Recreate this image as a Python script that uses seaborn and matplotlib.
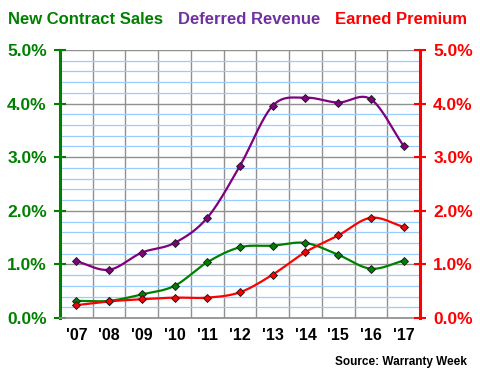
import numpy as np
import pandas as pd
import matplotlib
matplotlib.use("Agg")
import matplotlib.pyplot as plt
import seaborn as sns
from matplotlib.ticker import MultipleLocator, FixedLocator

years = ["'07", "'08", "'09", "'10", "'11", "'12", "'13", "'14", "'15", "'16", "'17"]
new_contract_sales = [0.32, 0.32, 0.44, 0.60, 1.04, 1.32, 1.35, 1.40, 1.18, 0.92, 1.07]
deferred_revenue = [1.06, 0.90, 1.22, 1.40, 1.87, 2.84, 3.96, 4.11, 4.02, 4.08, 3.21]
earned_premium = [0.24, 0.31, 0.35, 0.38, 0.38, 0.48, 0.81, 1.23, 1.54, 1.87, 1.70]
yticks = [0, 1, 2, 3, 4, 5]

GREEN = "#008000"
PURPLE = "#800080"
PURPLE_TXT = "#7030A0"
RED = "#FF0000"

sns.set_theme(style="white")
plt.rcParams["font.family"] = ["Liberation Sans", "DejaVu Sans"]
plt.rcParams["font.weight"] = "bold"

fig = plt.figure(figsize=(4.8, 3.8), dpi=100)
ax = fig.add_axes([60/480, 1-318/380, 360/480, 268/380])


def smooth(xs, ys, n=20):
    # Catmull-Rom style curve through the points (display smoothing only)
    xs = np.asarray(xs, float); ys = np.asarray(ys, float)
    px = np.concatenate([[2*xs[0]-xs[1]], xs, [2*xs[-1]-xs[-2]]])
    py = np.concatenate([[2*ys[0]-ys[1]], ys, [2*ys[-1]-ys[-2]]])
    ox, oy = [], []
    t = np.linspace(0, 1, n, endpoint=False)
    for i in range(1, len(px)-2):
        p0, p1, p2, p3 = py[i-1], py[i], py[i+1], py[i+2]
        x0, x1, x2, x3 = px[i-1], px[i], px[i+1], px[i+2]
        t2, t3 = t*t, t*t*t
        oy.extend(0.5*((2*p1) + (-p0+p2)*t + (2*p0-5*p1+4*p2-p3)*t2 + (-p0+3*p1-3*p2+p3)*t3))
        ox.extend(0.5*((2*x1) + (-x0+x2)*t + (2*x0-5*x1+4*x2-x3)*t2 + (-x0+3*x1-3*x2+x3)*t3))
    ox.append(xs[-1]); oy.append(ys[-1])
    return np.array(ox), np.array(oy)


x = np.arange(len(years))
for vals, col, z in [(deferred_revenue, PURPLE, 3), (new_contract_sales, GREEN, 4), (earned_premium, RED, 5)]:
    sx, sy = smooth(x, vals)
    sns.lineplot(x=sx, y=sy, ax=ax, color=col, lw=1.6, sort=False, zorder=z)
    df = pd.DataFrame({"x": x, "y": vals})
    sns.scatterplot(data=df, x="x", y="y", ax=ax, marker="D", s=16, color=col,
                    edgecolor="#202020", linewidth=0.7, zorder=z+0.5)

ax.set_xlim(-0.5, 10.5)
ax.set_ylim(0, 5)
ax.set_xlabel(""); ax.set_ylabel("")

# grid
ax.yaxis.set_major_locator(FixedLocator(yticks))
ax.yaxis.set_minor_locator(MultipleLocator(0.2))
ax.grid(which="minor", axis="y", color="#99CCFF", lw=0.9, zorder=0)
ax.grid(which="major", axis="y", color="#909090", lw=1.0, zorder=1)
ax.set_xticks(x)
ax.set_xticklabels(years)
ax.xaxis.set_minor_locator(FixedLocator(np.arange(-0.5, 11, 1.0)))
ax.grid(which="minor", axis="x", color="#909090", lw=1.0, zorder=1)
ax.set_axisbelow(True)

ax.tick_params(axis="x", which="major", length=0, pad=7, labelsize=11.5, labelcolor="black")
ax.tick_params(axis="x", which="minor", length=5, color="#909090", width=1, direction="out")
ax.set_yticklabels([f"{v:.1f}%" for v in yticks])
ax.tick_params(axis="y", which="major", length=9, width=1.5, color=GREEN, direction="inout",
               labelsize=12.5, labelcolor=GREEN, pad=5)
ax.tick_params(axis="y", which="minor", length=0)

for s in ["top"]:
    ax.spines[s].set_visible(False)
ax.spines["bottom"].set_color("#909090")
ax.spines["left"].set_color(GREEN)
ax.spines["left"].set_linewidth(2.2)
ax.spines["right"].set_visible(False)

ax2 = ax.twinx()
ax2.set_ylim(0, 5)
ax2.set_yticks(yticks)
ax2.set_yticklabels([f"{v:.1f}%" for v in yticks])
ax2.tick_params(axis="y", length=9, width=1.5, color=RED, direction="inout",
                labelsize=12.5, labelcolor=RED, pad=5)
for s in ["top", "left", "bottom"]:
    ax2.spines[s].set_visible(False)
ax2.spines["right"].set_color(RED)
ax2.spines["right"].set_linewidth(2.2)
ax2.grid(False)

for lbl in ax.get_xticklabels() + ax.get_yticklabels() + ax2.get_yticklabels():
    lbl.set_fontweight("bold")

fig.text(8/480, 1-20/380, "New Contract Sales", color=GREEN, fontsize=12, fontweight="bold", va="center", ha="left")
fig.text(178/480, 1-20/380, "Deferred Revenue", color=PURPLE_TXT, fontsize=12, fontweight="bold", va="center", ha="left")
fig.text(467/480, 1-20/380, "Earned Premium", color=RED, fontsize=12, fontweight="bold", va="center", ha="right")
fig.text(467/480, 1-362/380, "Source: Warranty Week", color="black", fontsize=8.5, fontweight="bold", va="center", ha="right")

fig.savefig("out.png", dpi=100, facecolor="white")
